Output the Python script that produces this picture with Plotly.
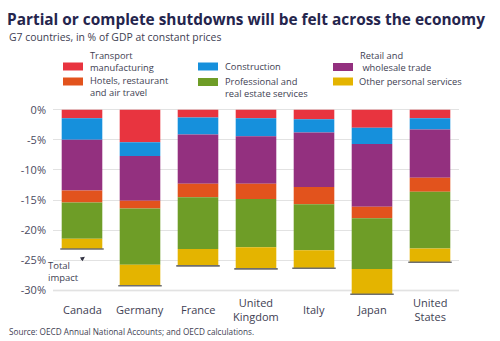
import plotly.graph_objects as go

# Sector contributions to the GDP shortfall, percentage points (negative = loss)
countries = ["Canada", "Germany", "France", "United Kingdom", "Italy", "Japan", "United States"]
country_labels = ["Canada", "Germany", "France", "United<br>Kingdom", "Italy", "Japan", "United<br>States"]

transport_manufacturing = [1.4, 5.4, 1.3, 1.4, 1.6, 3.0, 1.4]
construction = [3.6, 2.3, 2.8, 3.0, 2.2, 2.7, 1.9]
retail_wholesale = [8.4, 7.4, 8.2, 7.9, 9.0, 10.4, 8.0]
hotels_restaurant_air = [2.0, 1.3, 2.2, 2.5, 2.9, 1.9, 2.3]
professional_real_estate = [6.0, 9.3, 8.6, 8.0, 7.6, 8.4, 9.4]
other_personal = [1.7, 3.5, 2.8, 3.6, 3.0, 4.2, 2.3]

y_ticks = [0, -5, -10, -15, -20, -25, -30]

sectors = [
    ("Transport<br>manufacturing", transport_manufacturing, "#e8343f"),
    ("Construction", construction, "#1690dc"),
    ("Retail and<br> wholesale trade", retail_wholesale, "#93307f"),
    ("Hotels, restaurant<br>and air travel", hotels_restaurant_air, "#e2531d"),
    ("Professional and<br>real estate services", professional_real_estate, "#6e9d27"),
    ("Other personal services", other_personal, "#e4b400"),
]

W, H = 500, 341
ML, MR, MT, MB = 53, 41, 108, 46
PW, PH = W - ML - MR, H - MT - MB

NAVY = "#25254d"
TEXT = "#3e3e52"
FONT = "Open Sans"


def px_x(x):
    return (x - ML) / PW


def px_y(y):
    return (H - MB - y) / PH


fig = go.Figure()
for name, vals, color in sectors:
    fig.add_trace(go.Bar(
        x=countries, y=[-v for v in vals], name=name.replace("<br>", " "),
        marker=dict(color=color, line=dict(width=0)),
        width=0.7, showlegend=False, hoverinfo="skip",
    ))

totals = [-round(sum(v[i] for _, v, _ in sectors), 2) for i in range(len(countries))]

fig.update_layout(
    barmode="relative",
    width=W, height=H,
    margin=dict(l=ML, r=MR, t=MT, b=MB),
    paper_bgcolor="white", plot_bgcolor="white",
    font=dict(family=FONT, color=TEXT),
    title=dict(
        text="<b>Partial or complete shutdowns will be felt across the economy</b>",
        font=dict(family=FONT, size=15.4, color=NAVY),
        x=7 / W, xref="container", xanchor="left",
        y=1 - 20 / H, yref="container", yanchor="middle",
    ),
)

fig.update_xaxes(
    showticklabels=False, showgrid=False, zeroline=False, showline=False,
    range=[-0.5, len(countries) - 0.5],
)
fig.update_yaxes(
    range=[-30.73, 0.28],
    tickvals=y_ticks, ticktext=[f"{t}%" for t in y_ticks],
    tickfont=dict(size=11, color="#4a4a5e"),
    showgrid=True, gridcolor="#e2e2e2", gridwidth=1,
    zeroline=False, showline=False, ticks="", ticklabelstandoff=6,
)

annotations = [
    dict(text="G7 countries, in % of GDP at constant prices", x=px_x(7), y=px_y(37),
         xref="paper", yref="paper", xanchor="left", yanchor="middle",
         font=dict(size=10.4, color=TEXT), showarrow=False),
    dict(text="Source: OECD Annual National Accounts; and OECD calculations.",
         x=px_x(7), y=px_y(331), xref="paper", yref="paper",
         xanchor="left", yanchor="middle", font=dict(size=8.2, color=TEXT), showarrow=False),
]

# Category labels centred vertically under each bar
for c, lab in zip(countries, country_labels):
    annotations.append(dict(
        text=lab, x=c, xref="x", y=px_y(309), yref="paper",
        xanchor="center", yanchor="middle", showarrow=False,
        font=dict(size=11, color=TEXT),
    ))

# "Total impact" callout on the Canada bar
annotations.append(dict(
    text="Total<br>impact", x=0.05, y=totals[0] - 1.3, xref="x", yref="y",
    ax=-21, ay=15, showarrow=True, arrowhead=2, arrowsize=0.9, arrowwidth=1,
    arrowcolor="#333344", align="left", font=dict(size=9.5, color=TEXT),
    standoff=0,
))

shapes = []

# Total-impact marker: a grey rule at the foot of each stacked bar
for i, t in enumerate(totals):
    shapes.append(dict(
        type="line", xref="x", yref="y", x0=i - 0.375, x1=i + 0.375, y0=t, y1=t,
        line=dict(color="#6e6e6e", width=1.6),
    ))

# Legend: swatch (left, centre y) and text anchor (x, centre y) in pixels
legend_pos = [
    ((63, 66.5), (88, 62)),
    ((198, 66.5), (223, 66.5)),
    ((333, 67), (358, 61.5)),
    ((63, 81.5), (88, 86.5)),
    ((198, 82), (223, 87.5)),
    ((333, 81.5), (357, 81)),
]
for (label, _, color), ((sx, sy), (tx, ty)) in zip(sectors, legend_pos):
    shapes.append(dict(
        type="rect", xref="paper", yref="paper",
        x0=px_x(sx), x1=px_x(sx + 20), y0=px_y(sy + 4), y1=px_y(sy - 4),
        fillcolor=color, line=dict(width=0),
    ))
    annotations.append(dict(
        text=label, x=px_x(tx), y=px_y(ty), xref="paper", yref="paper",
        xanchor="left", yanchor="middle", align="left", showarrow=False,
        font=dict(size=9.3, color=TEXT),
    ))

# Darker baseline at the bottom gridline
shapes.append(dict(
    type="line", xref="paper", yref="y", x0=0, x1=1, y0=-30, y1=-30,
    line=dict(color="#d6d6d6", width=1.5), layer="below",
))

fig.update_layout(annotations=annotations, shapes=shapes)

fig.write_html("out.html")
